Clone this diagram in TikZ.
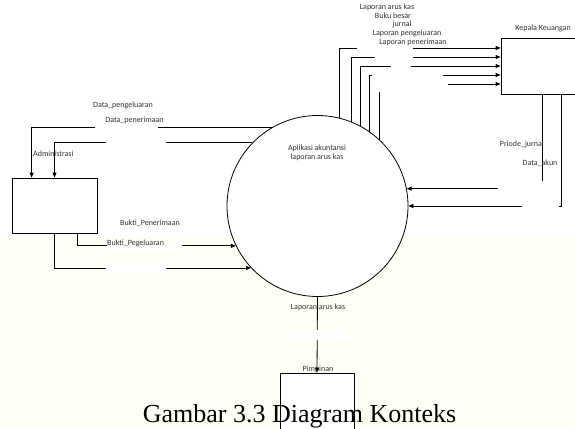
\documentclass[tikz,border=0pt]{standalone}
\usepackage{fontspec}
\setmainfont{Carlito}
\newfontfamily\captionfont{Liberation Serif}
\usetikzlibrary{arrows.meta}
\definecolor{cream}{RGB}{255,255,246}

\begin{document}
\begin{tikzpicture}[x=1pt, y=-1pt,
	lbl/.style={font=\fontsize{8}{9.6}\selectfont, text=black!80, inner sep=0pt},
	entity/.style={draw, fill=white, line width=0.8pt, inner sep=0pt},
	flow/.style={line width=0.8pt, -{Triangle[length=5pt,width=4pt]}}]
	\clip (0,0) rectangle (575,428);
	
	% Draw page background
	\fill[white] (0,0) rectangle (575,236);
	\fill[cream] (0,236) rectangle (575,428);
	
	% Draw process and entities
	\node[entity, circle, minimum size=181pt] (app) at (317.5,206) {};
	\node[entity, minimum width=85pt, minimum height=55pt] (adm) at (54.5,205.5) {};
	\node[entity, minimum width=100pt, minimum height=56pt] (kepala) at (551,66) {};
	\node[entity, minimum width=74pt, minimum height=70pt] (pimpinan) at (317,408) {};
	
	% Draw flows to and from Administrasi
	\draw[flow] (app.120) -| ([xshift=20pt]adm.north west);
	\draw[flow] (app.136) -| (adm.north);
	\draw[flow] ([xshift=-20pt]adm.south east) |- (app.206);
	\draw[flow] (adm.south) |- (app.223);
	
	% Draw flows to Kepala Keuangan
	\foreach \ang/\shift in {76/18, 68/9, 62/0, 55/-9, 47/-18}
	\draw[flow] (app.\ang) |- ([yshift=\shift pt]kepala.west);
	
	% Draw flows from Kepala Keuangan
	\draw[flow] ([xshift=42pt]kepala.south west) |- (app.11);
	\draw[flow] ([xshift=61pt]kepala.south west) |- (app.east);
	
	% Draw flow to Pimpinan
	\draw[flow] (app.south) -- (pimpinan.north);
	
	% Blank boxes behind flow labels
	\foreach \xa/\ya/\xb/\yb in {95/124/158/132, 106/139/166/147, 107/242/182/250, 106/264/166/272,
		357/44/413/52, 375/53/413/61, 391/62/411/70, 372/72/443/80, 376/81/448/92,
		498/181/546/193, 522/202/559/210, 290/330/345/340}
	\fill[white] (\xa,\ya) rectangle (\xb,\yb);
	
	% Label entities
	\node[lbl, align=center] (apptext) at (317,153) {Aplikasi akuntansi\\laporan arus kas};
	\node[lbl, anchor=west] (admtext) at (33,154) {Administrasi};
	\node[lbl] (kepalatext) at (543,28) {Kepala Keuangan};
	\node[lbl] (pimpinantext) at (318,369) {Pimpinan};
	
	% Label flows
	\node[lbl] (dpeng) at (123,105) {Data\_pengeluaran};
	\node[lbl] (dpen) at (134.5,120) {Data\_penerimaan};
	\node[lbl] (bpen) at (150,223) {Bukti\_Penerimaan};
	\node[lbl, anchor=west] (bpeg) at (107,243) {Bukti\_Pegeluaran};
	\node[lbl] (lak) at (387,7) {Laporan arus kas};
	\node[lbl] (bb) at (393,16) {Buku besar};
	\node[lbl] (jur) at (402,24) {jurnal};
	\node[lbl] (lpeng) at (407,33) {Laporan pengeluaran};
	\node[lbl] (lpen) at (413,42) {Laporan penerimaan};
	\node[lbl, anchor=east] (pj) at (544,144) {Priode\_jurnal};
	\node[lbl] (dak) at (540,163) {Data\_akun};
	\node[lbl] (lakp) at (318,307) {Laporan arus kas};
	
	% Caption
	\node[font=\captionfont\fontsize{26}{31}\selectfont, anchor=base, inner sep=0pt] (caption) at (299.5,422) {Gambar 3.3 Diagram Konteks};
\end{tikzpicture}
\end{document}
